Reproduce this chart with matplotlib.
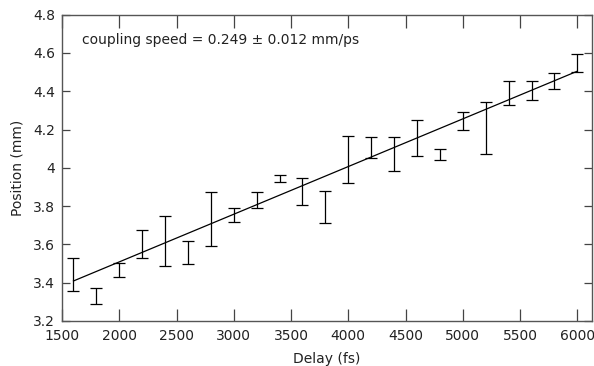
import numpy as np
import matplotlib
matplotlib.use("Agg")
import matplotlib.pyplot as plt
from matplotlib.ticker import FuncFormatter

# delay points (fs)
delay = [1600, 1800, 2000, 2200, 2400, 2600, 2800, 3000, 3200, 3400, 3600, 3800,
         4000, 4200, 4400, 4600, 4800, 5000, 5200, 5400, 5600, 5800, 6000]
# error bar upper / lower ends (mm)
pos_hi = [3.531, 3.371, 3.501, 3.674, 3.748, 3.616, 3.872, 3.792, 3.875, 3.962, 3.948, 3.880,
          4.168, 4.161, 4.162, 4.248, 4.100, 4.293, 4.345, 4.452, 4.453, 4.495, 4.594]
pos_lo = [3.358, 3.290, 3.430, 3.531, 3.487, 3.499, 3.592, 3.715, 3.789, 3.927, 3.804, 3.710,
          3.919, 4.051, 3.985, 4.062, 4.042, 4.197, 4.070, 4.326, 4.352, 4.413, 4.502]

# linear fit: position = intercept + slope * delay
fit_slope = 0.249e-3      # mm/fs
fit_intercept = 3.0106    # mm
label_text = "coupling speed = 0.249 \u00b1 0.012 mm/ps"

x = np.array(delay, dtype=float)
hi = np.array(pos_hi)
lo = np.array(pos_lo)
center = (hi + lo) / 2
err = (hi - lo) / 2

plt.rcParams['font.family'] = ['DejaVu Sans']
plt.rcParams['font.size'] = 10

fig = plt.figure(figsize=(5.94, 3.66), dpi=100)
ax = fig.add_axes([0.1044, 0.123, 0.8918, 0.837])

ax.errorbar(x, center, yerr=err, fmt='none', ecolor='black', elinewidth=0.9,
            capsize=4.2, capthick=0.9)

xf = np.array([delay[0], delay[-1]], dtype=float)
ax.plot(xf, fit_intercept + fit_slope * xf, color='black', linewidth=0.9)

ax.text(0.037, 0.917, label_text, transform=ax.transAxes, fontsize=10,
        va='center', ha='left', color='#222222')

ax.set_xlim(1500, 6126)
ax.set_ylim(3.2, 4.8)
ax.set_xticks(np.arange(1500, 6001, 500))
ax.set_yticks(np.arange(3.2, 4.81, 0.2))
ax.yaxis.set_major_formatter(FuncFormatter(lambda v, p: f"{v:.1f}".rstrip('0').rstrip('.')))

ax.tick_params(axis='x', direction='in', top=True, length=9, width=0.9,
               color='#444444', labelsize=10, labelcolor='#222222', pad=6)
ax.tick_params(axis='y', direction='in', right=True, length=6, width=0.9,
               color='#444444', labelsize=10, labelcolor='#222222', pad=5)
for s in ax.spines.values():
    s.set_color('#555555')
    s.set_linewidth(1.0)

ax.set_xlabel("Delay (fs)", fontsize=10, color='#222222', labelpad=6)
ax.set_ylabel("Position (mm)", fontsize=10, color='#222222', labelpad=6)

fig.savefig("out.png", dpi=100)
